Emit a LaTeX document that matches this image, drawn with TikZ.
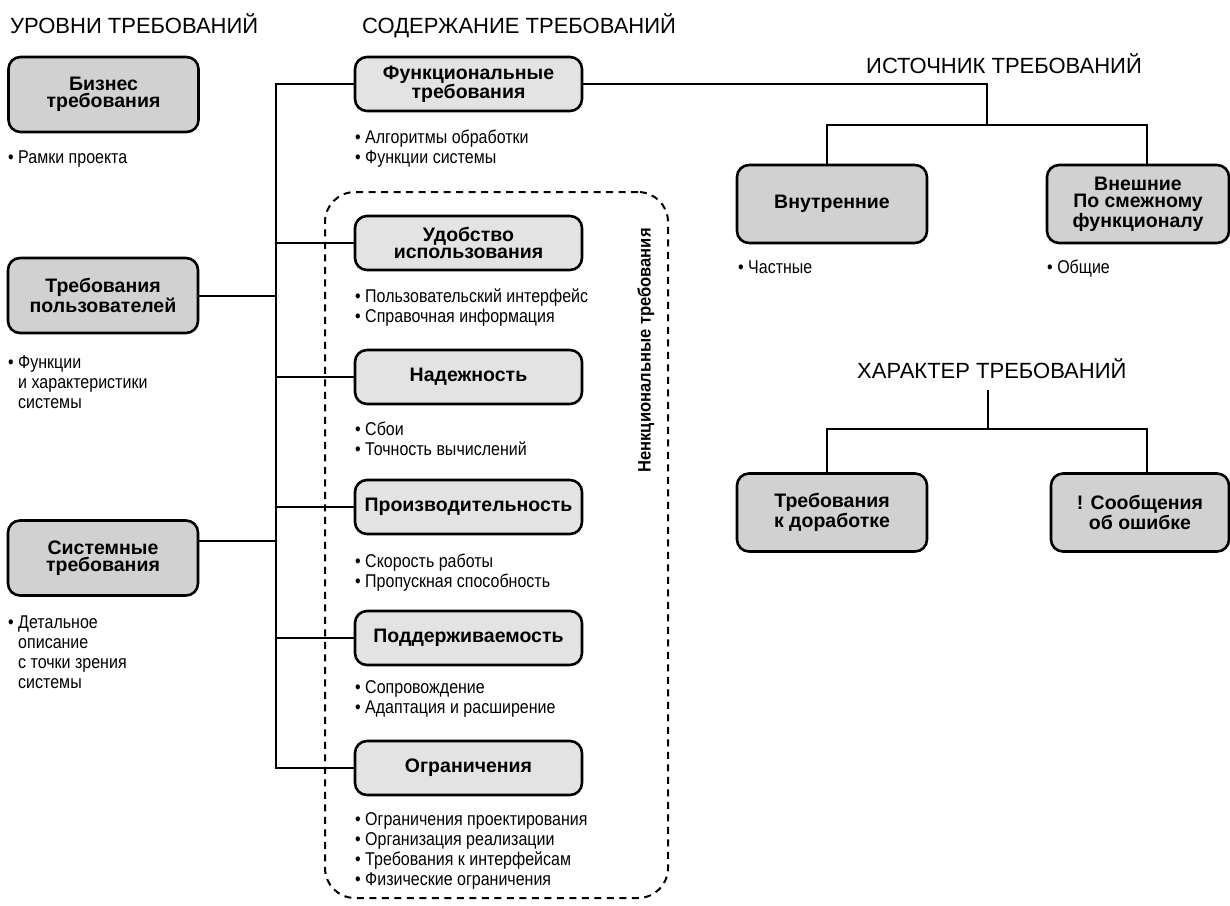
\documentclass[tikz,border=0pt]{standalone}
\usepackage{fontspec}
\setmainfont{Liberation Sans}
\newfontfamily\bulfont[FakeStretch=0.865]{Liberation Sans}
\newfontfamily\vertfont[FakeStretch=0.92]{Liberation Sans}
\newcommand\bulind{\hphantom{•\ }}
\tikzset{
  lbox/.style={draw, line width=2.6pt, rounded corners=12pt, fill=black!18,
    minimum width=190pt, minimum height=75pt, inner sep=0pt, align=center,
    font=\bfseries\fontsize{19.5}{17.5}\selectfont},
  rbox/.style={lbox, minimum height=78pt},
  mbox/.style={lbox, fill=black!11, minimum width=227pt, minimum height=54pt},
  head/.style={anchor=base west, inner sep=0pt, font=\fontsize{22}{24}\selectfont},
  bul/.style={anchor=base west, inner sep=0pt, font=\bulfont\fontsize{18.5}{20}\selectfont},
  conn/.style={line width=2pt},
  frame/.style={draw, line width=2pt, dash pattern=on 7pt off 5.5pt, rounded corners=30pt, inner sep=0pt}
}
\begin{document}
\begin{tikzpicture}[x=1pt,y=-1pt]
\useasboundingbox (0,0) rectangle (1230,905);
% headings
\node[head] (hlev) at (10,33) {УРОВНИ ТРЕБОВАНИЙ};
\node[head] (hcon) at (362,33) {СОДЕРЖАНИЕ ТРЕБОВАНИЙ};
\node[head] (hsrc) at (866,73) {ИСТОЧНИК ТРЕБОВАНИЙ};
\node[head] (hchr) at (857,378) {ХАРАКТЕР ТРЕБОВАНИЙ};
% dashed frame
\node[frame, minimum width=343pt, minimum height=706pt] (frm) at (496.5,545) {};
\node[rotate=90, anchor=east, inner sep=0pt, font=\vertfont\bfseries\fontsize{18}{20}\selectfont] (nfl) at (646,228) {Ненкциональные требования};
% left boxes
\node[lbox] (biz) at (103.5,94.5) {Бизнес\\требования};
\node[lbox] (usr) at (103,295.5) {Требования\\пользователей};
\node[lbox] (sys) at (103,558) {Системные\\требования};
% middle boxes
\node[mbox] (fun) at (468.5,84) {Функциональные\\требования};
\node[mbox] (ux) at (468.5,243) {Удобство\\использования};
\node[mbox] (nad) at (468.5,377) {Надежность};
\node[mbox] (pro) at (468.5,507) {Производительность};
\node[mbox] (sup) at (468.5,638) {Поддерживаемость};
\node[mbox] (ogr) at (468.5,768) {Ограничения};
% right boxes
\node[rbox] (vnu) at (832,204) {Внутренние};
\node[rbox, minimum width=182pt] (vne) at (1138,204) {Внешние\\По смежному\\функционалу};
\node[rbox] (dor) at (832,512.5) {Требования\\к доработке};
\node[rbox, minimum width=178pt] (msg) at (1140,512.5) {! Сообщения\\об ошибке};
% trunk connectors
\coordinate (tx) at (276,0);
\draw[conn] (fun.west) -- (fun.west -| tx) -- (ogr.west -| tx) -- (ogr.west);
\foreach \n in {ux,nad,pro,sup} \draw[conn] (\n.west) -- (\n.west -| tx);
\draw[conn] (usr.east) -- (usr.east -| tx);
\coordinate (se) at ([yshift=17pt]sys.east);
\draw[conn] (se) -- (se -| tx);
% source connectors
\coordinate (j1) at (987,125);
\draw[conn] (fun.east) -| (j1);
\coordinate (vnut) at ([xshift=-5pt]vnu.north);
\coordinate (vnet) at ([xshift=9pt]vne.north);
\draw[conn] (vnut) |- (j1) -| (vnet);
% character connectors
\coordinate (h1) at (988,390);
\coordinate (j2) at (988,429);
\draw[conn] (h1) -- (j2);
\coordinate (dort) at ([xshift=-5pt]dor.north);
\coordinate (msgt) at ([xshift=7pt]msg.north);
\draw[conn] (dort) |- (j2) -| (msgt);
% bullets left
\node[bul] (b1) at (8,163) {• Рамки проекта};
\node[bul] (b2) at (8,368) {• Функции};
\node[bul] (b3) at (8,388) {\bulind и характеристики};
\node[bul] (b4) at (8,408) {\bulind системы};
\node[bul] (b5) at (8,628) {• Детальное};
\node[bul] (b6) at (8,648) {\bulind описание};
\node[bul] (b7) at (8,668) {\bulind с точки зрения};
\node[bul] (b8) at (8,688) {\bulind системы};
% bullets middle
\node[bul] (m1) at (355,143) {• Алгоритмы обработки};
\node[bul] (m2) at (355,163) {• Функции системы};
\node[bul] (m3) at (355,302) {• Пользовательский интерфейс};
\node[bul] (m4) at (355,322) {• Справочная информация};
\node[bul] (m5) at (355,435) {• Сбои};
\node[bul] (m6) at (355,455) {• Точность вычислений};
\node[bul] (m7) at (355,567) {• Скорость работы};
\node[bul] (m8) at (355,587) {• Пропускная способность};
\node[bul] (m9) at (355,693) {• Сопровождение};
\node[bul] (m10) at (355,713) {• Адаптация и расширение};
\node[bul] (m11) at (355,825) {• Ограничения проектирования};
\node[bul] (m12) at (355,845) {• Организация реализации};
\node[bul] (m13) at (355,865) {• Требования к интерфейсам};
\node[bul] (m14) at (355,885) {• Физические ограничения};
% bullets right
\node[bul] (r1) at (738,273) {• Частные};
\node[bul] (r2) at (1047,273) {• Общие};
\end{tikzpicture}
\end{document}
